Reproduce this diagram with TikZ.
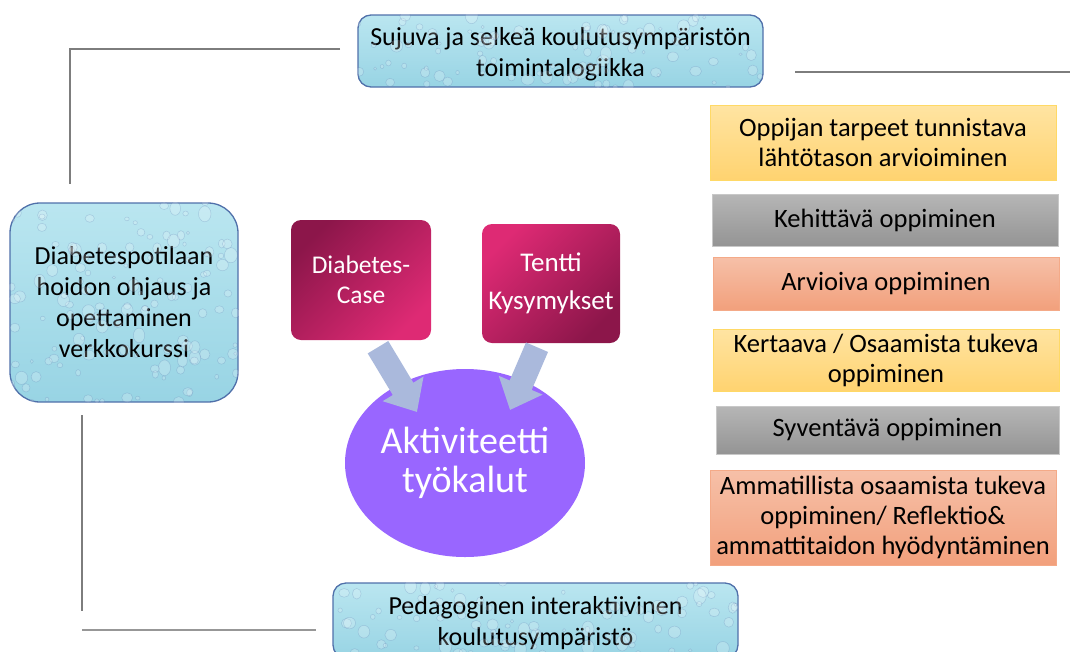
\documentclass[tikz,border=0pt]{standalone}
\usepackage{fontspec}
\setmainfont{Carlito}
\usepackage{xcolor}
\usepackage{tikz}
\usetikzlibrary{arrows.meta,shapes.geometric}
\definecolor{waterlight}{RGB}{186,230,240}
\definecolor{waterdark}{RGB}{152,212,228}
\definecolor{waterline}{RGB}{80,112,170}
\definecolor{sunlight}{RGB}{255,228,162}
\definecolor{sundark}{RGB}{255,211,112}
\definecolor{sunline}{RGB}{255,217,102}
\definecolor{greylight}{RGB}{182,182,182}
\definecolor{greydark}{RGB}{148,148,148}
\definecolor{greyline}{RGB}{200,200,200}
\definecolor{salmonlight}{RGB}{246,192,168}
\definecolor{salmondark}{RGB}{242,160,124}
\definecolor{salmonline}{RGB}{244,170,136}
\definecolor{magdark}{RGB}{140,22,74}
\definecolor{maglight}{RGB}{222,42,116}
\definecolor{aktviolet}{RGB}{153,102,255}
\definecolor{arrowblue}{RGB}{170,185,220}
\definecolor{frameline}{RGB}{125,125,125}

\tikzset{
  water/.style={draw=waterline, line width=1.3pt, rounded corners=13pt,
    top color=waterlight, bottom color=waterdark, align=center,
    font=\fontsize{26}{31}\selectfont},
  tool/.style={rounded corners=10pt, align=center, text=white, inner xsep=1pt},
  level/.style={minimum width=346pt, align=center, line width=.8pt, inner xsep=1pt,
    font=\fontsize{26.5}{30}\selectfont},
  sunbox/.style={level, draw=sunline, top color=sunlight, bottom color=sundark},
  greybox/.style={level, draw=greyline, top color=greylight, bottom color=greydark},
  salmonbox/.style={level, draw=salmonline, top color=salmonlight, bottom color=salmondark},
  blockarrow/.style={draw=arrowblue, line width=24pt,
    -{Triangle[length=27pt,width=46pt]}},
  frame/.style={draw=frameline, line width=1.2pt}
}

% droplets on the water boxes
\newcommand{\waterdrops}[3]{%
  \path (#1.south west); \pgfgetlastxy{\dxa}{\dya}
  \path (#1.north east); \pgfgetlastxy{\dxb}{\dyb}
  \begin{scope}
    \clip[rounded corners=#3] (#1.south west) rectangle (#1.north east);
    \foreach \k in {1,...,#2} {
      \pgfmathsetmacro{\px}{\dxa+rnd*((\dxb)-(\dxa))}
      \pgfmathsetmacro{\py}{\dya+rnd*((\dyb)-(\dya))}
      \pgfmathsetmacro{\rw}{1.5+5*rnd}
      \pgfmathsetmacro{\rh}{\rw*(0.8+0.5*rnd)}
      \fill[white, opacity=.2] (\px pt,\py pt) ellipse [x radius=\rw pt, y radius=\rh pt];
      \draw[waterline, opacity=.25, line width=.5pt] (\px pt,\py pt) ellipse [x radius=\rw pt, y radius=\rh pt];
    }
  \end{scope}
}

\begin{document}
\begin{tikzpicture}[x=1pt, y=-1pt]
\pgfmathsetseed{11}
\useasboundingbox (0,0) rectangle (1079,651);
\clip (0,0) rectangle (1079,651);

% Water boxes
\node[water, minimum width=405pt, minimum height=72pt] (top) at (560.5,51)
  {\rule{0pt}{24pt}Sujuva ja selkeä koulutusympäristön\\toimintalogiikka};
\waterdrops{top}{90}{13pt}
\node[water, rounded corners=30pt, minimum width=228pt, minimum height=199pt] (left) at (124,302.5)
  {Diabetespotilaan\\hoidon ohjaus ja\\opettaminen\\verkkokurssi};
\waterdrops{left}{130}{30pt}
\node[water, minimum width=405pt, minimum height=75pt] (bottom) at (535.5,620.5)
  {\rule{0pt}{24pt}Pedagoginen interaktiivinen\\koulutusympäristö};
\waterdrops{bottom}{90}{13pt}

% Frame lines
\coordinate (f1) at (340,49);
\coordinate (f2) at (70,184);
\coordinate (f3) at (795,72);
\coordinate (f4) at (1070,72);
\coordinate (f5) at (82,415);
\coordinate (f6) at (82,611);
\coordinate (f7) at (82,630);
\coordinate (f8) at (316,630);
\draw[frame] (f1) -| (f2);
\draw[frame] (f3) -- (f4);
\draw[frame] (f5) -- (f6);
\draw[frame, draw=frameline!80, line width=1.8pt] (f7) -- (f8);

% Activity tools
\node[tool, minimum width=140pt, minimum height=120pt, font=\fontsize{25.5}{30}\selectfont,
  top color=magdark, bottom color=maglight, shading angle=45] (dcase) at (361,280)
  {Diabetes-\\Case};
\node[tool, minimum width=138pt, minimum height=119pt, font=\fontsize{27}{38}\selectfont,
  top color=maglight, bottom color=magdark, shading angle=45] (tentti) at (551,283.5)
  {Tentti\\Kysymykset};
\node[ellipse, fill=aktviolet, inner sep=0pt, minimum width=240pt, minimum height=188pt,
  align=center, text=white, font=\fontsize{38}{39}\selectfont] (akt) at (465,463)
  {Aktiviteetti\\työkalut};

% Block arrows
\draw[blockarrow] ([shift={(17,7)}]dcase.south) -- ([shift={(-48,-51)}]akt.center);
\draw[blockarrow] ([shift={(-14,4)}]tentti.south) -- ([shift={(45,-53)}]akt.center);

% Learning levels
\node[sunbox, minimum height=75pt] (lvl1) at (883,142.5)
  {Oppijan tarpeet tunnistava\\lähtötason arvioiminen};
\node[greybox, minimum height=52pt] (lvl2) at (885,220)
  {Kehittävä oppiminen};
\node[salmonbox, minimum height=53pt] (lvl3) at (886,283.5)
  {Arvioiva oppiminen};
\node[sunbox, minimum height=62pt] (lvl4) at (886,360)
  {Kertaava / Osaamista tukeva\\oppiminen};
\node[greybox, minimum width=343pt, minimum height=48pt] (lvl5) at (887.5,430)
  {Syventävä oppiminen};
\node[salmonbox, minimum height=95pt] (lvl6) at (883,517.5)
  {Ammatillista osaamista tukeva\\oppiminen/ Reflektio\&\\ammattitaidon hyödyntäminen};
\end{tikzpicture}
\end{document}
